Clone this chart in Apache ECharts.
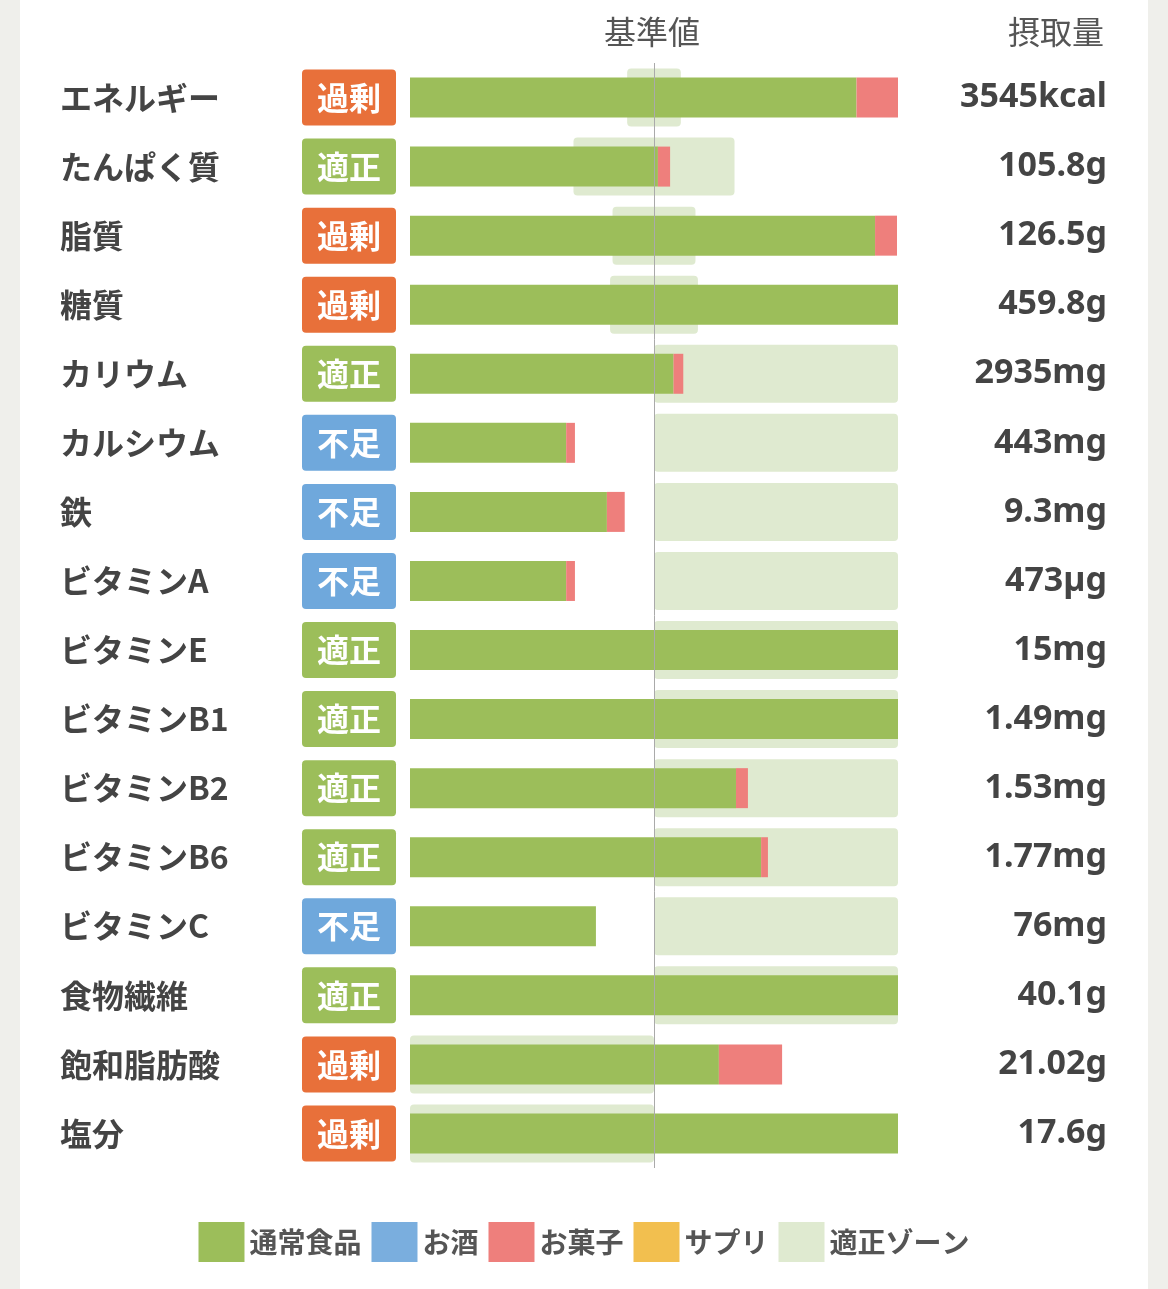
<!DOCTYPE html>
<html><head><meta charset="utf-8">
<script src="https://cdn.jsdelivr.net/npm/echarts@6/dist/echarts.min.js"></script>
<style>
html,body{margin:0;padding:0;background:#efefeb;}
#c{position:absolute;left:20px;top:0;width:1128px;height:1289px;background:#fff;}
</style></head><body><div id="c"></div>
<script>
const categories=['エネルギー','たんぱく質','脂質','糖質','カリウム','カルシウム','鉄','ビタミンA','ビタミンE','ビタミンB1','ビタミンB2','ビタミンB6','ビタミンC','食物繊維','飽和脂肪酸','塩分'];
const status=['過剰','適正','過剰','過剰','適正','不足','不足','不足','適正','適正','適正','適正','不足','適正','過剰','過剰'];
const intake=['3545kcal','105.8g','126.5g','459.8g','2935mg','443mg','9.3mg','473µg','15mg','1.49mg','1.53mg','1.77mg','76mg','40.1g','21.02g','17.6g'];
const food=[183,101.6,190.6,200,108,64,80.7,64,200,200,133.6,143.9,76.2,200,126.6,200];
const sweets=[17,5,9,0,4,3.6,7.3,3.6,0,0,4.9,2.8,0,0,25.9,0];
const zoneStart=[89,67,83,82,100,100,100,100,100,100,100,100,100,100,0,0];
const zoneEnd=[111,133,117,118,200,200,200,200,200,200,200,200,200,200,100,100];
const badgeKey={'過剰':'over','適正':'ok','不足':'low'};
const badge=(c)=>({color:'#fff',backgroundColor:c,width:94,height:56,align:'center',fontSize:32,fontWeight:'bold',borderRadius:4,fontFamily:'Noto Sans CJK JP'});
const chart=echarts.init(document.getElementById('c'));
chart.setOption({
  animation:false,
  grid:{left:390,right:250,top:63,bottom:121},
  xAxis:{type:'value',min:0,max:200,show:false},
  yAxis:[
    {type:'category',data:categories,inverse:true,axisLine:{show:false},axisTick:{show:false},
     axisLabel:{align:'left',margin:350,formatter:(v,i)=>'{n|'+v+'}{'+badgeKey[status[i]]+'|'+status[i]+'}',
       rich:{n:{width:242,fontSize:32,fontWeight:'bold',color:'#444',fontFamily:'Noto Sans CJK JP'},over:badge('#e8703a'),ok:badge('#9cbe5a'),low:badge('#6fa8dc')}}},
    {type:'category',data:categories,inverse:true,position:'right',axisLine:{show:false},axisTick:{show:false},
     axisLabel:{align:'right',margin:209,fontSize:34,fontWeight:'bold',color:'#444',fontFamily:'Noto Sans',formatter:(v,i)=>intake[i]}}
  ],
  legend:{bottom:22,left:'center',itemWidth:46,itemHeight:40,itemGap:10,icon:'rect',
    textStyle:{fontSize:28,fontWeight:'bold',color:'#555',fontFamily:'Noto Sans CJK JP'},
    data:['通常食品','お酒','お菓子','サプリ','適正ゾーン']},
  graphic:[
    {type:'text',left:584,top:16,style:{text:'基準値',fontSize:32,fill:'#555',fontFamily:'Noto Sans CJK JP'}},
    {type:'text',left:988,top:16,style:{text:'摂取量',fontSize:32,fill:'#555',fontFamily:'Noto Sans CJK JP'}}
  ],
  series:[
    {type:'bar',yAxisIndex:1,stack:'z',data:zoneStart,barWidth:58,itemStyle:{color:'transparent'},silent:true},
    {name:'適正ゾーン',type:'bar',yAxisIndex:1,stack:'z',data:zoneEnd.map((e,i)=>e-zoneStart[i]),barWidth:58,itemStyle:{color:'#dfead0',borderRadius:4}},
    {name:'通常食品',type:'bar',yAxisIndex:0,stack:'f',data:food,barWidth:40,itemStyle:{color:'#9cbe5a'},z:3,
     markLine:{silent:true,symbol:'none',label:{show:false},lineStyle:{color:'#aaa',width:1,type:'solid'},data:[{xAxis:100}]}},
    {name:'お酒',type:'bar',yAxisIndex:0,stack:'f',data:categories.map(()=>0),barWidth:40,itemStyle:{color:'#7aaede'},z:3},
    {name:'お菓子',type:'bar',yAxisIndex:0,stack:'f',data:sweets,barWidth:40,itemStyle:{color:'#ee7f7c'},z:3},
    {name:'サプリ',type:'bar',yAxisIndex:0,stack:'f',data:categories.map(()=>0),barWidth:40,itemStyle:{color:'#f2bf4f'},z:3}
  ]
});
</script></body></html>
